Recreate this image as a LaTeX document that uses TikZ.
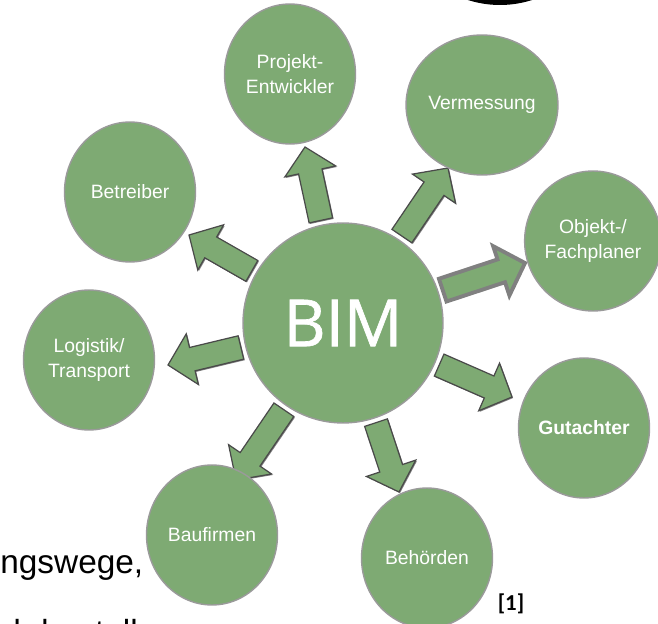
\documentclass[tikz,border=0pt]{standalone}
\usepackage{fontspec}
\setmainfont{Liberation Sans}
\newfontfamily\bimfont[FakeBold=1]{Open Sans}
\newfontfamily\reffont{Carlito}
\usetikzlibrary{calc,shapes.geometric,backgrounds,shadows}
\definecolor{bimgreen}{HTML}{7EAA73}
\definecolor{rimgray}{HTML}{9A9A9A}
\definecolor{arrline}{HTML}{4A4A4A}
\definecolor{boldline}{HTML}{808080}
\tikzset{
  role/.style={ellipse,draw=rimgray,line width=0.8pt,fill=bimgreen,text=white,minimum width=2.62cm,minimum height=2.8cm,inner sep=0pt,align=center,font=\fontsize{11}{14.2}\selectfont},
  hub/.style={circle,draw=rimgray,line width=0.8pt,fill=bimgreen,text=white,minimum size=4cm,inner sep=0pt,font=\bimfont\fontsize{37}{40}\selectfont},
  barrow/.style={fill=bimgreen,draw=arrline,line width=0.7pt,line join=miter,
    drop shadow={shadow xshift=0.6pt,shadow yshift=-0.6pt,fill=black!70,opacity=0.7}},
  barrowbold/.style={fill=bimgreen,draw=boldline,line width=2.2pt,line join=miter},
  slidetext/.style={inner sep=0pt,font=\fontsize{19}{23}\selectfont}
}
% block arrow from the hub's rim towards a tip
\newcommand{\blockarr}[2]{%
  \coordinate (tl) at ($(bim.center)!2.1cm!(#2)$);
  \coordinate (nk) at ($(#2)!0.5cm!(tl)$);
  \draw[#1] (#2) -- ($(nk)!0.52cm!90:(#2)$) -- ($(nk)!0.24cm!90:(#2)$)
    -- ($(tl)!0.24cm!90:(#2)$) -- ($(tl)!0.24cm!-90:(#2)$)
    -- ($(nk)!0.24cm!-90:(#2)$) -- ($(nk)!0.52cm!-90:(#2)$) -- cycle;}

\begin{document}
\begin{tikzpicture}[x=0.02cm,y=0.02cm]
  \useasboundingbox (0,0) rectangle (658,-624);
  \clip (0,0) rectangle (658,-624);
  \fill[black] (500,100) circle (105);
  % roles round the hub
  \foreach \nm/\x/\y/\txt in {proj/290/74/{Projekt-\\Entwickler}, verm/482/105/{Vermessung},
      betr/130/192/{Betreiber}, obj/593/241/{Objekt-/\\Fachplaner}, logi/89/360/{Logistik/\\Transport},
      gut/584/428/{\textbf{Gutachter}}, bau/212/535/{Baufirmen}, beh/427/558/{Behörden}}{
    \node[role] (\nm) at (\x,-\y) {\txt};
  }
  \node[hub] (bim) at (343,-323) {BIM};
  \begin{scope}[on background layer]
    \foreach \tp/\x/\y in {projTip/305/147, vermTip/448/168, betrTip/189/235, logTip/168/365,
        bauTip/236/480, behTip/399/492, gutTip/512/397}{
      \coordinate (\tp) at (\x,-\y);
      \blockarr{barrow}{\tp}
    }
    \coordinate (objTip) at (525,-263);
    \blockarr{barrowbold}{objTip}
  \end{scope}
  \node[slidetext,anchor=base west] (wege) at (0,-573) {ngswege,};
  \node[slidetext,anchor=base west] (zeile) at (2,-643) {d darstellen};
  \node[font=\reffont\bfseries\fontsize{13}{15}\selectfont] (ref) at (511,-604) {[1]};
\end{tikzpicture}
\end{document}
